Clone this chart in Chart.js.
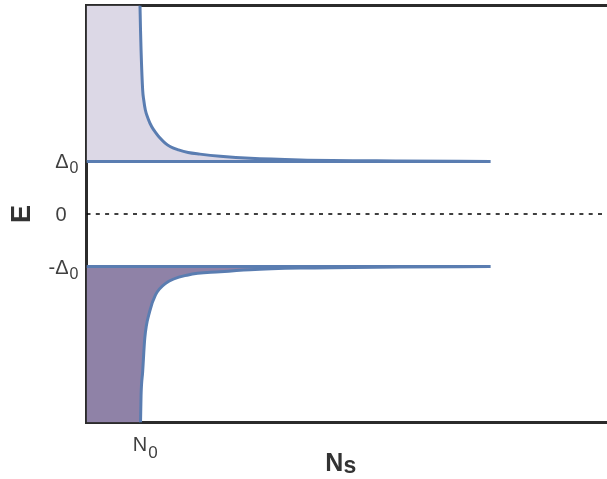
<!DOCTYPE html>
<html>
<head>
<meta charset="utf-8">
<script src="https://cdn.jsdelivr.net/npm/chart.js@4/dist/chart.umd.min.js"></script>
<style>
  html, body { margin: 0; padding: 0; background: #ffffff; }
  #wrap { width: 607px; height: 479px; }
</style>
</head>
<body>
<div id="wrap"><canvas id="c" width="607" height="479"></canvas></div>
<script>
// Quasiparticle density of states N_s(E) around the gap (N in units of N0, E in units of Δ0)
const upperN = [1.00, 1.01, 1.02, 1.05, 1.07, 1.10, 1.15, 1.22, 1.30, 1.37, 1.47, 1.57, 1.72, 1.90, 2.12, 2.50, 3.06, 4.00, 5.86, 7.55];
const upperE = [3.97, 3.50, 3.12, 2.36, 2.17, 1.98, 1.82, 1.66, 1.54, 1.45, 1.35, 1.28, 1.22, 1.17, 1.14, 1.10, 1.06, 1.03, 1.01, 1.00];
const lowerN = [1.01, 1.02, 1.05, 1.09, 1.18, 1.29, 1.48, 1.90, 2.50, 3.06, 4.00, 5.86, 7.55];
const lowerE = [-3.97, -3.45, -3.00, -2.36, -1.86, -1.54, -1.32, -1.16, -1.10, -1.06, -1.03, -1.01, -1.00];

// Gap edges and Fermi level
const gapEdges = [1, -1];
const gapLineEnd = 7.55;
const fermiE = 0;

// Axis ranges and tick labels
const nRange = [0, 9.73];
const eRange = [-3.97, 3.97];
const yTickValues = [1, 0, -1];
const yTickMain = ['Δ', '0', '-Δ'];
const yTickSub = ['0', '', '0'];
const xTickValues = [1];
const xTickMain = ['N'];
const xTickSub = ['0'];
const yTitle = 'E';
const xTitleMain = 'N';
const xTitleSub = 's';

const lineColor = 'rgb(90,125,177)';
const upperFill = 'rgb(220,216,230)';
const lowerFill = 'rgb(143,130,167)';
const axisColor = '#2b2b2b';
const textColor = '#404040';

const toPts = (xs, ys) => xs.map((x, i) => ({ x: x, y: ys[i] }));
const upperCurve = toPts(upperN, upperE);
const lowerCurve = toPts(lowerN, lowerE);

const curveStyle = {
  borderColor: lineColor, borderWidth: 3, pointRadius: 0, fill: false,
  cubicInterpolationMode: 'monotone', showLine: true
};

const datasets = [
  Object.assign({ label: 'upper', data: upperCurve }, curveStyle),
  Object.assign({ label: 'lower', data: lowerCurve }, curveStyle),
  { label: 'Δ0', data: [{ x: nRange[0], y: gapEdges[0] }, { x: gapLineEnd, y: gapEdges[0] }],
    borderColor: lineColor, borderWidth: 3, pointRadius: 0, showLine: true, fill: false },
  { label: '-Δ0', data: [{ x: nRange[0], y: gapEdges[1] }, { x: gapLineEnd, y: gapEdges[1] }],
    borderColor: lineColor, borderWidth: 3, pointRadius: 0, showLine: true, fill: false },
  { label: 'EF', data: [{ x: nRange[0], y: fermiE }, { x: nRange[1], y: fermiE }],
    borderColor: '#000000', borderWidth: 1.5, borderDash: [4, 5.3], pointRadius: 0, showLine: true, fill: false },
  { label: 'upper fill', data: [{ x: nRange[0], y: eRange[1] }].concat(upperCurve),
    borderWidth: 0, borderColor: 'rgba(0,0,0,0)', backgroundColor: upperFill, pointRadius: 0,
    showLine: true, cubicInterpolationMode: 'monotone', fill: { value: gapEdges[0] } },
  { label: 'lower fill', data: [{ x: nRange[0], y: eRange[0] }].concat(lowerCurve),
    borderWidth: 0, borderColor: 'rgba(0,0,0,0)', backgroundColor: lowerFill, pointRadius: 0,
    showLine: true, cubicInterpolationMode: 'monotone', fill: { value: gapEdges[1] } }
];

// Tick labels with subscripts and the axis titles
const labelsPlugin = {
  id: 'dosLabels',
  afterDraw(chart) {
    const ctx = chart.ctx;
    const xs = chart.scales.x, ys = chart.scales.y;
    const area = chart.chartArea;
    ctx.save();
    ctx.fillStyle = textColor;
    ctx.textBaseline = 'alphabetic';

    yTickValues.forEach((v, i) => {
      const py = ys.getPixelForValue(v);
      const right = area.left - (yTickSub[i] ? 18 : 20);
      ctx.font = '20px "Liberation Sans", Arial, sans-serif';
      ctx.textAlign = 'right';
      ctx.fillText(yTickMain[i], right, py + 7);
      if (yTickSub[i]) {
        ctx.font = '16px "Liberation Sans", Arial, sans-serif';
        ctx.textAlign = 'left';
        ctx.fillText(yTickSub[i], right + 1, py + 12);
      }
    });

    xTickValues.forEach((v, i) => {
      const px = xs.getPixelForValue(v);
      ctx.font = '20px "Liberation Sans", Arial, sans-serif';
      const w = ctx.measureText(xTickMain[i]).width;
      ctx.textAlign = 'left';
      const left = px - w / 2;
      ctx.fillText(xTickMain[i], left, area.bottom + 28);
      ctx.font = '17px "Liberation Sans", Arial, sans-serif';
      ctx.fillText(xTickSub[i], left + w + 1, area.bottom + 35);
    });

    // y title
    ctx.save();
    ctx.translate(23, (area.top + area.bottom) / 2);
    ctx.rotate(-Math.PI / 2);
    ctx.font = 'bold 27px "Liberation Sans", Arial, sans-serif';
    ctx.textAlign = 'center';
    ctx.textBaseline = 'middle';
    ctx.fillStyle = '#333333';
    ctx.fillText(yTitle, 0, 0);
    ctx.restore();

    // x title
    ctx.fillStyle = '#333333';
    ctx.textAlign = 'left';
    ctx.font = 'bold 25px "Liberation Sans", Arial, sans-serif';
    const wN = ctx.measureText(xTitleMain).width;
    ctx.font = 'bold 23px "Liberation Sans", Arial, sans-serif';
    const wS = ctx.measureText(xTitleSub).width;
    const start = (area.left + area.right) / 2 - 6 - (wN + wS) / 2;
    ctx.font = 'bold 25px "Liberation Sans", Arial, sans-serif';
    ctx.fillText(xTitleMain, start, area.bottom + 48);
    ctx.font = 'bold 23px "Liberation Sans", Arial, sans-serif';
    ctx.fillText(xTitleSub, start + wN, area.bottom + 50);
    ctx.restore();
  }
};

new Chart(document.getElementById('c'), {
  type: 'scatter',
  data: { datasets: datasets },
  options: {
    responsive: false,
    animation: false,
    devicePixelRatio: 1,
    layout: { padding: 0 },
    plugins: { legend: { display: false }, tooltip: { enabled: false } },
    scales: {
      x: {
        type: 'linear', position: 'bottom', min: nRange[0], max: nRange[1],
        grid: { display: false },
        border: { display: true, color: axisColor, width: 3 },
        ticks: { display: false },
        afterFit(s) { s.height = 56.5; }
      },
      xTop: {
        type: 'linear', position: 'top', min: nRange[0], max: nRange[1],
        grid: { display: false },
        border: { display: true, color: axisColor, width: 3 },
        ticks: { display: false },
        afterFit(s) { s.height = 5.5; }
      },
      y: {
        type: 'linear', position: 'left', min: eRange[0], max: eRange[1],
        grid: { display: false },
        border: { display: true, color: axisColor, width: 3 },
        ticks: { display: false },
        afterFit(s) { s.width = 86.5; }
      }
    }
  },
  plugins: [labelsPlugin]
});
</script>
</body>
</html>
